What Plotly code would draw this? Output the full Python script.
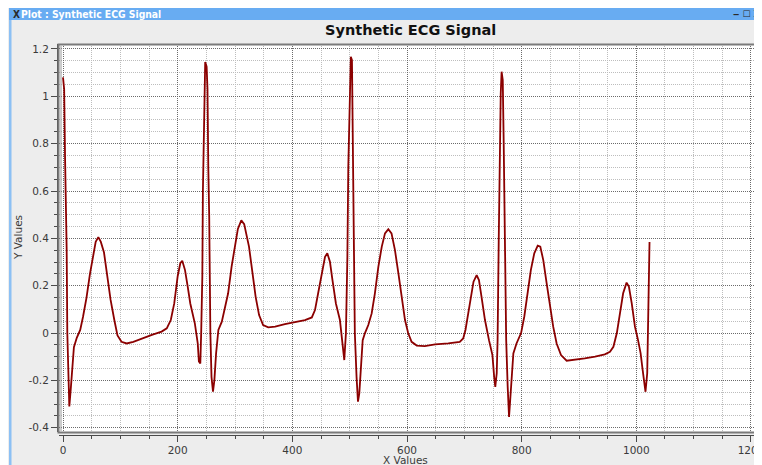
import plotly.graph_objects as go

# ---- data ----
x_vals = [0, 2, 3.5, 5, 6.4, 7.5, 9.3, 11, 13.4, 16, 19, 24, 30, 35, 41, 47, 53, 57, 61.6, 66,
          71.5, 77, 83, 89.5, 95, 102, 111, 122.6, 137, 155, 172, 181, 188, 194, 200, 204.6, 208,
          212.8, 217.5, 222, 230, 235, 237, 239.5, 241, 243, 244, 246.5, 248, 250.5, 252, 253.4,
          255, 257, 259, 261.6, 264, 267, 271, 277, 282.5, 288, 294, 300, 305, 311, 316, 324.4,
          330, 336, 342, 349, 358, 370, 387, 404.6, 422, 434, 439.5, 445, 451, 457, 461, 465.6,
          470, 476, 483, 487, 490.6, 493.5, 496, 497.6, 500, 502, 504, 505, 507, 509, 512, 514.5,
          516.8, 519.7, 522.7, 526.7, 532.5, 538.4, 544, 550, 556, 561.6, 567.4, 573, 579, 585,
          590.7, 596.5, 602, 608, 617, 631, 649, 672, 692, 698, 702, 707, 711.6, 716, 721.5,
          725.5, 730, 736, 743, 749, 752, 754, 756.5, 758, 760, 761.6, 763.5, 765, 767, 768.6,
          771, 773, 775.6, 778, 780, 782.6, 785.5, 791, 799, 804.6, 810.5, 816, 822, 828, 832.5,
          837.7, 843.6, 849, 855, 861, 868.6, 878.5, 890, 910, 928, 945, 954, 960, 966, 971.5,
          977, 983, 987, 992, 997.6, 1003, 1007.5, 1011, 1014, 1016, 1019, 1020.7, 1021.6, 1023]
y_vals = [1.08, 1.03, 0.75, 0.55, 0.35, 0.0, -0.15, -0.31, -0.24, -0.16, -0.06, -0.02, 0.013,
          0.07, 0.15, 0.25, 0.34, 0.385, 0.405, 0.385, 0.34, 0.24, 0.14, 0.055, -0.01, -0.037,
          -0.044, -0.037, -0.023, -0.008, 0.006, 0.02, 0.055, 0.125, 0.24, 0.295, 0.305, 0.266,
          0.196, 0.125, 0.04, -0.044, -0.12, -0.128, 0.0, 0.24, 0.60, 0.955, 1.145, 1.125, 1.03,
          0.70, 0.49, 0.0, -0.185, -0.248, -0.2, -0.086, 0.013, 0.048, 0.11, 0.168, 0.28, 0.37,
          0.44, 0.476, 0.46, 0.365, 0.252, 0.153, 0.076, 0.034, 0.024, 0.027, 0.038, 0.048, 0.055,
          0.066, 0.097, 0.168, 0.252, 0.322, 0.337, 0.301, 0.224, 0.125, 0.055, -0.03, -0.114,
          0.0, 0.322, 0.70, 0.984, 1.167, 1.153, 0.886, 0.42, 0.0, -0.185, -0.29, -0.255, -0.128,
          -0.03, 0.0, 0.034, 0.083, 0.168, 0.28, 0.365, 0.421, 0.439, 0.421, 0.35, 0.252, 0.153,
          0.055, 0.0, -0.037, -0.053, -0.055, -0.048, -0.044, -0.037, -0.023, 0.013, 0.083, 0.153,
          0.217, 0.245, 0.224, 0.153, 0.055, -0.03, -0.093, -0.185, -0.227, -0.17, -0.03, 0.393,
          0.787, 1.013, 1.104, 1.069, 0.815, 0.393, -0.03, -0.227, -0.354, -0.283, -0.17, -0.086,
          -0.044, 0.0, 0.07, 0.168, 0.266, 0.337, 0.369, 0.365, 0.308, 0.21, 0.125, 0.027, -0.044,
          -0.093, -0.117, -0.114, -0.107, -0.1, -0.09, -0.079, -0.058, 0.0, 0.083, 0.168, 0.213,
          0.196, 0.125, 0.027, -0.03, -0.086, -0.156, -0.227, -0.248, -0.17, 0.04, 0.203, 0.385]

y_tick_vals = [-0.4, -0.2, 0, 0.2, 0.4, 0.6, 0.8, 1.0, 1.2]
y_tick_text = ["-0.4", "-0.2", "0", "0.2", "0.4", "0.6", "0.8", "1", "1.2"]
x_tick_vals = [0, 200, 400, 600, 800, 1000, 1200]
x_tick_text = ["0", "200", "400", "600", "800", "1000", "1200"]

# The page body has an 8px margin, so the figure starts at (8, 8) in the window.
OFF = 8
W, H = 762 - OFF, 465 - OFF


def px(p):
    """window x pixel -> paper x"""
    return (p - OFF) / W


def py(p):
    """window y pixel -> paper y"""
    return 1 - (p - OFF) / H


FONT = "DejaVu Sans"

fig = go.Figure()
fig.add_trace(go.Scatter(x=x_vals, y=y_vals, mode="lines",
                         line=dict(color="#8b0000", width=1.8),
                         hoverinfo="skip", showlegend=False))

axis_common = dict(showline=True, linecolor="#4a4a4a", linewidth=1,
                   ticks="outside", ticklen=6, tickcolor="#4a4a4a", tickwidth=1,
                   tickfont=dict(family=FONT, size=10.5, color="#3a3a3a"),
                   showgrid=True, gridcolor="#6a6a6a", gridwidth=1, griddash="1px,1px",
                   zeroline=False, automargin=False, fixedrange=True,
                   ticklabeloverflow="allow")

fig.update_layout(
    width=W, height=H, autosize=False,
    margin=dict(l=0, r=0, t=0, b=0, pad=0),
    paper_bgcolor="#ededed", plot_bgcolor="#ffffff",
    showlegend=False,
    xaxis=dict(domain=[px(59), 1.0], range=[-7, 1219.2],
               anchor="free", position=py(434.5),
               tickmode="array", tickvals=x_tick_vals, ticktext=x_tick_text,
               minor=dict(tickmode="linear", tick0=0, dtick=50, ticks="outside", ticklen=3,
                          tickcolor="#4a4a4a", showgrid=True, gridcolor="#bdbdbd",
                          griddash="1px,1px", gridwidth=1),
               **axis_common),
    yaxis=dict(domain=[py(432), py(44)], range=[-0.418, 1.221],
               anchor="free", position=px(57),
               tickmode="array", tickvals=y_tick_vals, ticktext=y_tick_text,
               minor=dict(tickmode="linear", tick0=0, dtick=0.05, ticks="outside", ticklen=3,
                          tickcolor="#4a4a4a", showgrid=True, gridcolor="#bdbdbd",
                          griddash="1px,1px", gridwidth=1),
               **axis_common),
)

shapes = [
    # canvas frame
    dict(type="rect", xref="paper", yref="paper", x0=px(58.5), x1=px(766),
         y0=py(432.5), y1=py(44.5), line=dict(color="#7a7a7a", width=2), layer="above"),
    dict(type="line", xref="paper", yref="paper", x0=px(61), x1=px(61),
         y0=py(431), y1=py(46), line=dict(color="#9a9a9a", width=1), layer="above"),
    # title bar
    dict(type="rect", xref="paper", yref="paper", x0=px(9), x1=1, y0=py(20), y1=py(8),
         fillcolor="#68acf2", line=dict(width=0), layer="above"),
    # left window border
    dict(type="rect", xref="paper", yref="paper", x0=px(9), x1=px(11.5), y0=0, y1=py(20),
         fillcolor="#8cc0f4", line=dict(width=0), layer="above"),
]
fig.update_layout(shapes=shapes)

annotations = [
    dict(text="<b>Synthetic ECG Signal</b>", xref="paper", yref="paper",
         x=px(410), y=py(30), xanchor="center", yanchor="middle", showarrow=False,
         font=dict(family=FONT, size=14.5, color="#111111")),
    dict(text="X Values", xref="paper", yref="paper", x=px(405), y=py(460),
         xanchor="center", yanchor="middle", showarrow=False,
         font=dict(family=FONT, size=10.5, color="#3a3a3a")),
    dict(text="Y Values", xref="paper", yref="paper", x=px(18), y=py(238),
         xanchor="center", yanchor="middle", showarrow=False, textangle=-90,
         font=dict(family=FONT, size=10.5, color="#3a3a3a")),
    dict(text="<b>X</b>", xref="paper", yref="paper", x=px(11), y=py(14),
         xanchor="left", yanchor="middle", showarrow=False,
         font=dict(family="DejaVu Sans Condensed, DejaVu Sans", size=10, color="#2a2a2a")),
    dict(text="<b>Plot : Synthetic ECG Signal</b>", xref="paper", yref="paper",
         x=px(19), y=py(14), xanchor="left", yanchor="middle", showarrow=False,
         font=dict(family="DejaVu Sans Condensed, DejaVu Sans", size=10.3, color="#ffffff")),
    dict(text="<b>‒ ☐ X</b>", xref="paper", yref="paper", x=px(763), y=py(14),
         xanchor="right", yanchor="middle", showarrow=False,
         font=dict(family=FONT, size=9, color="#2a2a2a")),
]
fig.update_layout(annotations=annotations)

fig.write_html("out.html")
